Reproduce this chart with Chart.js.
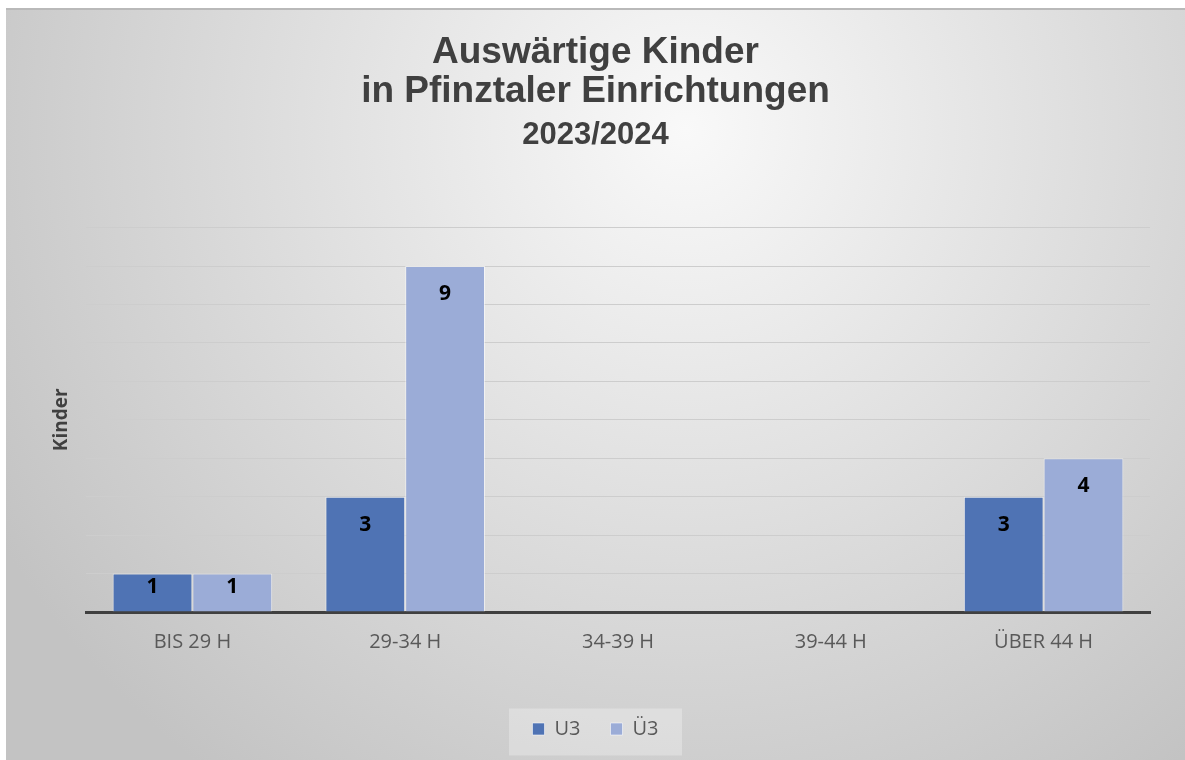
<!DOCTYPE html>
<html>
<head>
<meta charset="utf-8">
<script src="https://cdn.jsdelivr.net/npm/chart.js@4/dist/chart.umd.min.js"></script>
<style>
  html, body { margin: 0; padding: 0; background: #ffffff; width: 1185px; height: 760px; overflow: hidden; }
  #wrap { position: absolute; left: 6px; top: 8px; width: 1179px; height: 752px; border-top: 2px solid #b9b9b9; box-sizing: border-box; }
  canvas { display: block; }
</style>
</head>
<body>
<div id="wrap"><canvas id="c" width="1179" height="750"></canvas></div>
<script>
const categories = ['BIS 29 H', '29-34 H', '34-39 H', '39-44 H', 'ÜBER 44 H'];
const seriesNames = ['U3', 'Ü3'];
const valuesU3 = [1, 3, 0, 0, 3];
const valuesUe3 = [1, 9, 0, 0, 4];
const titleLines = ['Auswärtige Kinder', 'in Pfinztaler Einrichtungen'];
const subtitleText = '2023/2024';
const yAxisTitle = 'Kinder';

const bgPlugin = {
  id: 'bg',
  beforeDraw(chart) {
    const ctx = chart.ctx;
    const w = chart.width, h = chart.height;
    ctx.save();
    const g = ctx.createRadialGradient(680, 120, 0, 680, 120, 800);
    g.addColorStop(0, '#f9f9f9');
    g.addColorStop(1, '#c3c3c3');
    ctx.fillStyle = g;
    ctx.fillRect(0, 0, w, h);
    // legend panel
    const lg = chart.legend;
    if (lg && lg.options.display) {
      const cx = (lg.left + lg.right) / 2;
      const cy = lg.top + lg.options.labels.padding + 12;
      ctx.fillStyle = 'rgba(255,255,255,0.28)';
      ctx.fillRect(cx - 86.5, cy - 22.5, 173, 47);
    }
    ctx.restore();
  }
};

const labelPlugin = {
  id: 'valueLabels',
  afterDatasetsDraw(chart) {
    const ctx = chart.ctx;
    ctx.save();
    ctx.font = 'bold 21px "Open Sans"';
    ctx.fillStyle = '#000000';
    ctx.textAlign = 'center';
    ctx.textBaseline = 'middle';
    chart.data.datasets.forEach((ds, di) => {
      const meta = chart.getDatasetMeta(di);
      meta.data.forEach((el, i) => {
        const v = ds.data[i];
        if (!v) return;
        const hgt = el.base - el.y;
        ctx.fillText(String(v), el.x, el.y + Math.min(28, hgt * 0.36));
      });
    });
    ctx.restore();
  }
};

new Chart(document.getElementById('c'), {
  type: 'bar',
  data: {
    labels: categories,
    datasets: [
      {
        label: seriesNames[0],
        data: valuesU3,
        backgroundColor: '#4f73b4',
        borderColor: 'rgba(255,255,255,0.55)',
        borderWidth: (c) => (c.raw ? 1 : 0),
        categoryPercentage: 0.75,
        barPercentage: 1.0
      },
      {
        label: seriesNames[1],
        data: valuesUe3,
        backgroundColor: '#9bacd7',
        borderColor: 'rgba(255,255,255,0.55)',
        borderWidth: (c) => (c.raw ? 1 : 0),
        categoryPercentage: 0.75,
        barPercentage: 1.0
      }
    ]
  },
  options: {
    responsive: false,
    animation: false,
    devicePixelRatio: 1,
    layout: { padding: { left: 0, right: 0, top: 0, bottom: 21 } },
    plugins: {
      tooltip: { enabled: false },
      title: {
        display: true,
        text: titleLines,
        color: '#404040',
        font: { family: '"Liberation Sans", Arial, sans-serif', size: 37, weight: 'bold', lineHeight: 1.06 },
        padding: { top: 23, bottom: 5 }
      },
      subtitle: {
        display: true,
        text: subtitleText,
        color: '#404040',
        font: { family: '"Liberation Sans", Arial, sans-serif', size: 31, weight: 'bold', lineHeight: 1.2 },
        padding: { top: 0, bottom: 74 }
      },
      legend: {
        display: true,
        position: 'bottom',
        maxHeight: 50,
        labels: {
          color: '#595959',
          font: { family: '"Open Sans", sans-serif', size: 20 },
          boxWidth: 12,
          boxHeight: 12,
          padding: 30
        }
      }
    },
    scales: {
      x: {
        grid: { display: false, drawTicks: false },
        border: { display: true, color: '#404040', width: 3 },
        ticks: {
          color: '#595959',
          font: { family: '"Open Sans", sans-serif', size: 20 },
          padding: 18,
          maxRotation: 0
        },
        afterFit(s) { s.height = 77; }
      },
      y: {
        min: 0,
        max: 10,
        ticks: { display: false, stepSize: 1 },
        grid: { color: '#cdcdcd', lineWidth: 1, drawTicks: false },
        border: { display: false },
        title: {
          display: true,
          text: yAxisTitle,
          color: '#404040',
          font: { family: '"Open Sans", sans-serif', size: 19, weight: 'bold' },
          padding: { top: 44, bottom: 0 }
        },
        afterFit(s) { s.width = 80; }
      },
      yRight: {
        type: 'linear',
        position: 'right',
        display: true,
        grid: { display: false, drawTicks: false },
        border: { display: false },
        ticks: { display: false },
        afterFit(s) { s.width = 35; }
      }
    }
  },
  plugins: [bgPlugin, labelPlugin]
});
</script>
</body>
</html>
